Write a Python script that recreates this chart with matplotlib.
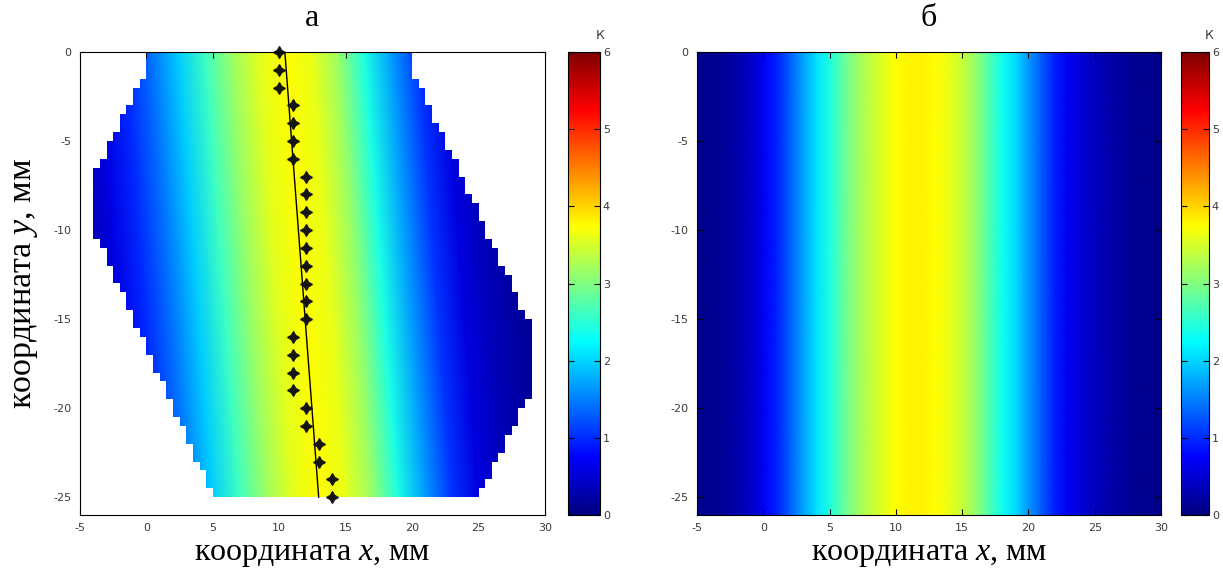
import numpy as np
import matplotlib
matplotlib.use("Agg")
import matplotlib.pyplot as plt
from matplotlib.colors import Normalize, ListedColormap, LinearSegmentedColormap
from matplotlib.path import Path
import matplotlib.cm as cm

# ---------------- data ----------------
# panel "а": measured ridge points (stars), y in mm, x in mm
star_y = [0, -1, -2, -3, -4, -5, -6, -7, -8, -9, -10, -11, -12, -13,
          -14, -15, -16, -17, -18, -19, -20, -21, -22, -23, -24, -25]
star_x = [10, 10, 10, 11, 11, 11, 11, 12, 12, 12, 12, 12, 12, 12,
          12, 12, 11, 11, 11, 11, 12, 12, 13, 13, 14, 14]

# temperature profile across the ridge (offset from fitted line, mm) -> K
a_offset = [-18, -16, -14, -12, -10, -8, -6, -4, -2, 0,
            2, 4, 6, 8, 10, 12, 14, 16, 18, 20]
a_value = [0.12, 0.28, 0.60, 1.00, 1.45, 1.95, 2.62, 3.15, 3.57, 3.75,
           3.62, 3.15, 2.40, 1.68, 1.07, 0.58, 0.35, 0.20, 0.10, 0.05]

# computational domain of panel "а" (polygon vertices, mm)
domain_x = [0, 20, 20, 29, 29, 25, 5, -4, -4, 0]
domain_y = [0, 0, -1, -15.5, -19, -25, -25, -10, -7, -1]

# panel "б": temperature profile along x (uniform in y)
b_x = [-5, -3, -1, 0, 1, 2, 3, 4, 5, 6, 7, 8, 9, 10, 11, 12, 13, 14, 15,
       16, 17, 18, 19, 20, 21, 22, 23, 24, 26, 28, 30]
b_value = [0.08, 0.15, 0.42, 0.70, 0.92, 1.30, 1.70, 2.07, 2.42, 2.80,
           3.12, 3.37, 3.58, 3.73, 3.80, 3.80, 3.75, 3.63, 3.42, 3.12,
           2.72, 2.35, 2.05, 1.65, 1.27, 0.93, 0.70, 0.50, 0.28, 0.12, 0.05]

x_ticks = [-5, 0, 5, 10, 15, 20, 25, 30]
y_ticks = [0, -5, -10, -15, -20, -25]
cbar_ticks = [0, 1, 2, 3, 4, 5, 6]

# ---------------- style ----------------
plt.rcParams["mathtext.fontset"] = "custom"
plt.rcParams["mathtext.it"] = "Liberation Serif:italic"
plt.rcParams["mathtext.rm"] = "Liberation Serif"
plt.rcParams["axes.unicode_minus"] = False
SERIF = "Liberation Serif"
TICKC = "#3a3a3a"

W, H = 1223, 573
fig = plt.figure(figsize=(W / 100, H / 100), dpi=100)


def fr(x0, y0, x1, y1):
    return [x0 / W, 1 - y1 / H, (x1 - x0) / W, (y1 - y0) / H]


ax_a = fig.add_axes(fr(80, 52, 545, 515))
cax_a = fig.add_axes(fr(568, 52, 600, 515))
ax_b = fig.add_axes(fr(697, 52, 1161, 515))
cax_b = fig.add_axes(fr(1181, 52, 1209, 515))

# MATLAB-style jet
cmap = LinearSegmentedColormap.from_list(
    "jet_m",
    [(0.0, (0, 0, 0.5)), (0.125, (0, 0, 1)), (0.375, (0, 1, 1)),
     (0.625, (1, 1, 0)), (0.875, (1, 0, 0)), (1.0, (0.5, 0, 0))], N=256)
norm = Normalize(0, 6)

# ----- panel а -----
fit = np.polyfit(star_y, star_x, 1)
row_y = np.array([0.0, -25.0])
ridge = np.polyval(fit, row_y)
Xa = ridge[:, None] + np.array(a_offset)[None, :]
Ya = np.repeat(row_y[:, None], len(a_offset), axis=1)
Za = np.repeat(np.array(a_value)[None, :], 2, axis=0)
ax_a.pcolormesh(Xa, Ya, Za, cmap=cmap, norm=norm, shading="gouraud",
                antialiased=False, zorder=1)

# staircase mask on 0.5 mm cells
cell = 0.5
xc = np.arange(-5 + cell / 2, 30, cell)
yc = np.arange(-cell / 2, -26, -cell)
XC, YC = np.meshgrid(xc, yc)
poly = Path(np.column_stack([domain_x, domain_y]))
inside = poly.contains_points(np.column_stack([XC.ravel(), YC.ravel()])).reshape(XC.shape)
mask_cmap = ListedColormap([(1, 1, 1, 0), (1, 1, 1, 1)])
ax_a.imshow((~inside).astype(float), cmap=mask_cmap, vmin=0, vmax=1,
            extent=[-5, 30, -26, 0], origin="upper", interpolation="nearest",
            aspect="auto", zorder=2)

ax_a.plot(np.polyval(fit, row_y), row_y, color="black", lw=1.0, zorder=3)
ax_a.plot(star_x, star_y, linestyle="none", marker=(4, 1, 0), markersize=8.5,
          color="#151515", zorder=4, clip_on=False)

# ----- panel б -----
Xb = np.repeat(np.array(b_x, dtype=float)[None, :], 2, axis=0)
Yb = np.repeat(np.array([0.0, -26.0])[:, None], len(b_x), axis=1)
Zb = np.repeat(np.array(b_value)[None, :], 2, axis=0)
ax_b.pcolormesh(Xb, Yb, Zb, cmap=cmap, norm=norm, shading="gouraud", zorder=1)

for ax in (ax_a, ax_b):
    ax.set_xlim(-5, 30)
    ax.set_ylim(-26, 0)
    ax.set_xticks(x_ticks)
    ax.set_yticks(y_ticks)
    ax.tick_params(direction="in", top=True, right=True, length=4,
                   width=0.8, labelsize=8, labelcolor=TICKC, pad=6)
    for s in ax.spines.values():
        s.set_linewidth(0.8)
        s.set_zorder(5)
    ax.set_xlabel(r"координата $x$, мм", fontsize=23, family=SERIF,
                  labelpad=5)

ax_a.set_ylabel(r"координата $y$, мм", fontsize=24.5, family=SERIF)
ax_a.yaxis.set_label_coords(-0.085, 0.5)
ax_a.set_title("а", fontsize=23, family=SERIF, pad=19)
ax_b.set_title("б", fontsize=23, family=SERIF, pad=19)

# ----- colorbars -----
for cax in (cax_a, cax_b):
    sm = cm.ScalarMappable(norm=norm, cmap=cmap)
    cb = fig.colorbar(sm, cax=cax, ticks=cbar_ticks)
    cb.outline.set_linewidth(0.8)
    cax.tick_params(direction="in", left=True, right=True, length=4,
                    width=0.8, labelsize=8, labelcolor=TICKC, pad=2)
    cax.text(1.0, 1.022, "К", transform=cax.transAxes, ha="center",
             va="bottom", fontsize=9, color=TICKC)

fig.savefig("out.png", dpi=100)
